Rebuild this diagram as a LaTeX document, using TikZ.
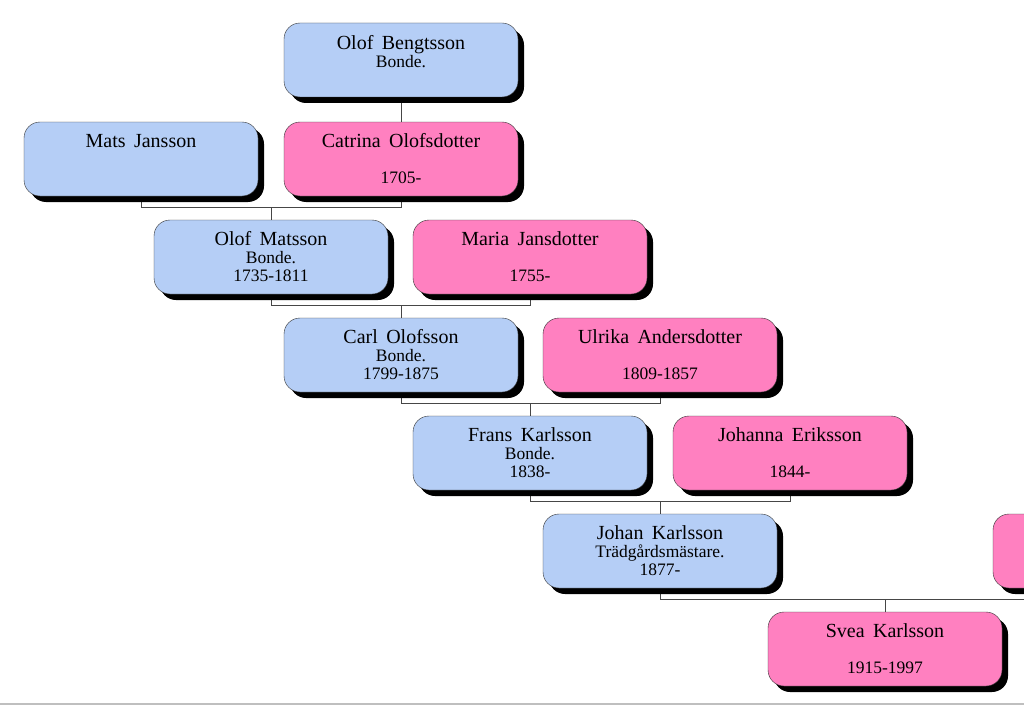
\documentclass[tikz,border=0pt]{standalone}
\usepackage{fontspec}
\setmainfont{Liberation Serif}
\usetikzlibrary{shadows}
\usetikzlibrary{backgrounds}

\definecolor{manblue}{RGB}{181,206,246}
\definecolor{womanpink}{RGB}{255,128,192}
\definecolor{linegray}{RGB}{70,70,70}

\newcommand{\nm}[1]{{\fontsize{20}{18}\selectfont\spaceskip=0.42em #1}}
\newcommand{\blank}{\vphantom{1}}

\begin{document}
\begin{tikzpicture}[x=1pt,y=-1pt,
		person/.style={draw=black!80, rounded corners=16pt, minimum width=234pt, minimum height=74pt, inner sep=0pt, align=center, font=\fontsize{17.5}{18}\selectfont, drop shadow={shadow xshift=6pt, shadow yshift=-6pt, fill=black, opacity=1}},
		man/.style={person, fill=manblue},
		woman/.style={person, fill=womanpink},
		link/.style={draw=linegray, line width=0.8pt}]
		
		\useasboundingbox (0,0) rectangle (1024,706);
		\clip (0,0) rectangle (1024,706);
		
		\node[man] (olofb) at (401,60) {\nm{Olof Bengtsson}\\Bonde.\\\blank};
		
		\node[man] (mats) at (141,159) {\nm{Mats Jansson}\\\blank\\\blank};
		\node[woman] (catrina) at (401,159) {\nm{Catrina Olofsdotter}\\\blank\\1705-};
		
		\node[man] (olofm) at (271,257) {\nm{Olof Matsson}\\Bonde.\\1735-1811};
		\node[woman] (maria) at (530,257) {\nm{Maria Jansdotter}\\\blank\\1755-};
		
		\node[man] (carl) at (401,355) {\nm{Carl Olofsson}\\Bonde.\\1799-1875};
		\node[woman] (ulrika) at (660,355) {\nm{Ulrika Andersdotter}\\\blank\\1809-1857};
		
		\node[man] (frans) at (530,453) {\nm{Frans Karlsson}\\Bonde.\\1838-};
		\node[woman] (johanna) at (790,453) {\nm{Johanna Eriksson}\\\blank\\1844-};
		
		\node[man] (johan) at (660,551) {\nm{Johan Karlsson}\\Tr\"adg\aa rdsm\"astare.\\1877-};
		\node[woman] (spouse) at (1110,551) {\blank\\\blank\\\blank};
		
		\node[woman] (svea) at (885,649) {\nm{Svea Karlsson}\\\blank\\1915-1997};
		
		% lines between the generations
		\begin{scope}[on background layer]
			\draw[link] (olofb.south) -- (catrina.north);
			
			\draw[link] (mats.south) -- ++(0,11) coordinate (c1) -| (catrina.south);
			\draw[link] (olofm.north) -- (olofm.north |- c1);
			
			\draw[link] (olofm.south) -- ++(0,11) coordinate (c2) -| (maria.south);
			\draw[link] (carl.north) -- (carl.north |- c2);
			
			\draw[link] (carl.south) -- ++(0,11) coordinate (c3) -| (ulrika.south);
			\draw[link] (frans.north) -- (frans.north |- c3);
			
			\draw[link] (frans.south) -- ++(0,11) coordinate (c4) -| (johanna.south);
			\draw[link] (johan.north) -- (johan.north |- c4);
			
			\draw[link] (johan.south) -- ++(0,11) coordinate (c5) -| (spouse.south);
			\draw[link] (svea.north) -- (svea.north |- c5);
		\end{scope}
		
		\draw[black!25, line width=1.5pt] (0,704) -- (1024,704);
	\end{tikzpicture}
\end{document}
